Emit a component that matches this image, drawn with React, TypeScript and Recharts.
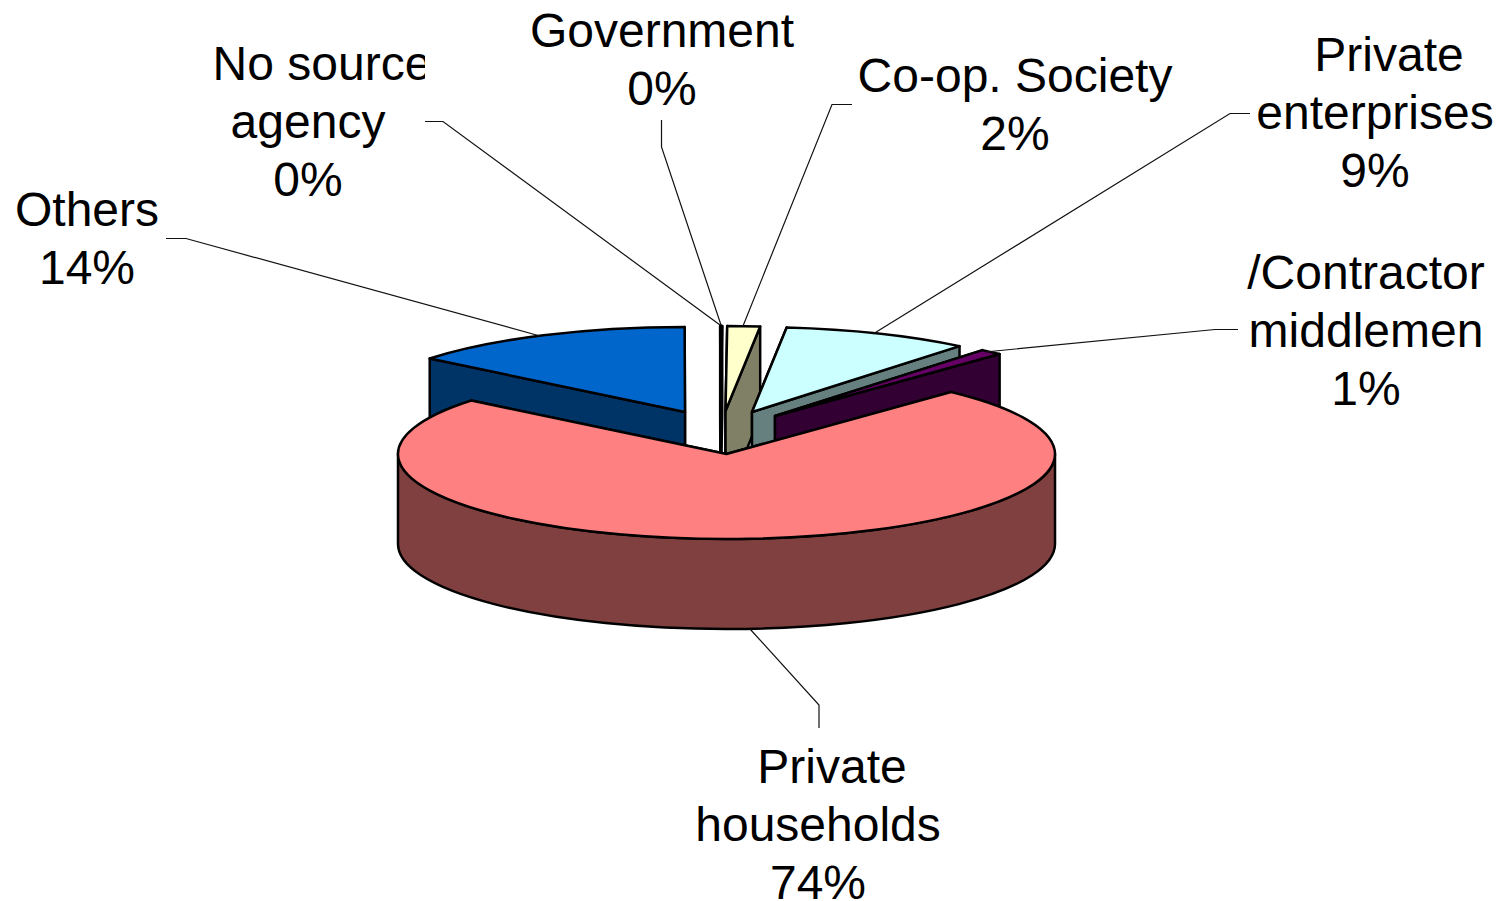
import { PieChart, Pie } from "recharts";

const names = ["Others", "No source agency", "Government", "Co-op. Society", "Private enterprises", "/Contractor middlemen", "Private households"];
const shares = [14.15, 0.05, 0.05, 1.6, 9.2, 1.1, 73.85];
const labelLines = [
  ["Others"],
  ["No source", "agency"],
  ["Government"],
  ["Co-op. Society"],
  ["Private", "enterprises"],
  ["/Contractor", "middlemen"],
  ["Private", "households"],
];

const tops = ["#0066cc", "#ffffff", "#ffffff", "#ffffcc", "#ccffff", "#660066", "#ff8080"];
const walls = ["#003366", "#808080", "#808080", "#808066", "#668080", "#330033", "#804040"];

// how far each slice is pulled out of the pie, in px
const pulled = [[-41.5, -42], [-6, -43], [-6, -43], [-1, -43], [25.5, -42], [48.5, -38], [0, 0]];

// text blocks: x of each line (last one is the percent), baseline of first line
const labelX = [[87, 87], [322, 308, 308], [662, 662], [1015, 1015], [1389, 1375, 1375], [1366, 1366, 1366], [832, 818, 818]];
const labelY = [226, 80, 47, 92, 71, 289, 783];
const leaders = [
  "166,238.5 186,238.5 540,336",
  "425,121.5 443,121.5 720,325",
  "661.5,120 661.5,147 721,325",
  "852,104.5 832,104.5 743,326",
  "1250,113.5 1230,113.5 873,334",
  "1238,329.5 1215,329.5 985,352",
  "819,728 819,705 750,629",
];

const chartData = names.map((name, i) => ({ name, value: shares[i] }));

const TILT = 0.2588;
const DEPTH = 90;
const LINE_H = 58;

const rim = (cx: number, cy: number, r: number, deg: number) => {
  const a = (deg * Math.PI) / 180;
  return { x: cx + r * Math.cos(a), y: cy - r * TILT * Math.sin(a) };
};

const Slice3D = (props: any) => {
  const { cx, cy, outerRadius: r, startAngle, endAngle, index } = props;
  const [dx, dy] = pulled[index];
  const x0 = cx + dx;
  const y0 = cy + dy;
  const ry = r * TILT;
  const a = rim(x0, y0, r, startAngle);
  const b = rim(x0, y0, r, endAngle);
  const large = startAngle - endAngle > 180 ? 1 : 0;
  const top = `M${x0},${y0} L${a.x},${a.y} A${r},${ry} 0 ${large} 1 ${b.x},${b.y} Z`;

  // cut faces, the one further back first
  const cuts = [a, b].sort((p, q) => p.y - q.y).map(
    (p) => `M${x0},${y0} L${p.x},${p.y} L${p.x},${p.y + DEPTH} L${x0},${y0 + DEPTH} Z`
  );

  // outer wall only where the rim faces the viewer
  const from = Math.min(startAngle, 0);
  const to = Math.max(endAngle, -180);
  let wall = null;
  if (from > to) {
    const p = rim(x0, y0, r, from);
    const q = rim(x0, y0, r, to);
    wall = `M${p.x},${p.y} A${r},${ry} 0 0 1 ${q.x},${q.y} L${q.x},${q.y + DEPTH} A${r},${ry} 0 0 0 ${p.x},${p.y + DEPTH} Z`;
  }

  const line = { stroke: "#000", strokeWidth: 2.5, strokeLinejoin: "round" as const };
  return (
    <g>
      {cuts.map((d, i) => (
        <path key={i} d={d} fill={walls[index]} {...line} />
      ))}
      {wall && <path d={wall} fill={walls[index]} {...line} />}
      <path d={top} fill={tops[index]} {...line} />
    </g>
  );
};

const SliceLabel = (props: any) => {
  const { index, value } = props;
  const rows = [...labelLines[index], `${Math.round(value)}%`];
  return (
    <g>
      <polyline points={leaders[index]} fill="none" stroke="#111" strokeWidth={1.2} />
      <g clipPath={index === 1 ? "url(#noSourceClip)" : undefined}>
        {rows.map((row, i) => (
          <text
            key={i}
            x={labelX[index][i]}
            y={labelY[index] + i * LINE_H}
            textAnchor="middle"
            fontFamily="'Liberation Sans', Arial, sans-serif"
            fontSize={48}
            fill="#000"
          >
            {row}
          </text>
        ))}
      </g>
    </g>
  );
};

export default function App() {
  return (
    <div style={{ position: "absolute", left: 0, top: 0, width: 1504, height: 901, background: "#fff", overflow: "hidden" }}>
      <PieChart width={1504} height={901} margin={{ top: 0, right: 0, bottom: 0, left: 0 }}>
        <defs>
          <clipPath id="noSourceClip">
            <rect x={0} y={0} width={425} height={300} />
          </clipPath>
        </defs>
        <Pie
          data={chartData}
          dataKey="value"
          nameKey="name"
          cx={726.5}
          cy={454}
          outerRadius={328.5}
          startAngle={141}
          endAngle={-219}
          paddingAngle={0}
          isAnimationActive={false}
          shape={Slice3D}
          inactiveShape={Slice3D}
          activeShape={Slice3D}
          label={SliceLabel}
          labelLine={false}
          rootTabIndex={-1}
        />
      </PieChart>
    </div>
  );
}
